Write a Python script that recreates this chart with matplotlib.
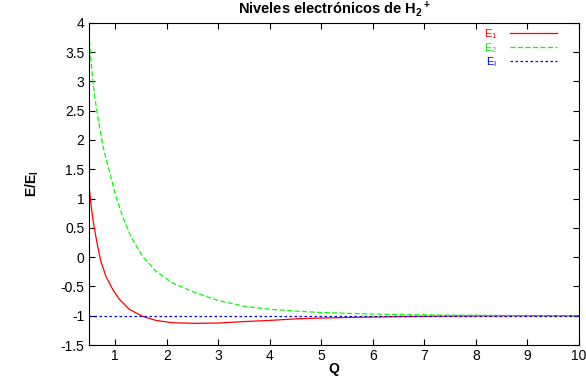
import numpy as np
import matplotlib
matplotlib.use('Agg')
import matplotlib.pyplot as plt

plt.rcParams['font.family'] = ['Liberation Sans', 'DejaVu Sans']
plt.rcParams['mathtext.default'] = 'regular'

# values
q_e1 = [0.5, 0.53, 0.55, 0.593, 0.63, 0.66, 0.72, 0.82, 0.95, 1.08, 1.27, 1.53, 1.79,
        2.11, 2.56, 3.0, 3.5, 4.0, 4.57, 5.0, 5.5, 6.5, 7.5, 8.5, 10.0]
e1 = [1.15, 0.9, 0.75, 0.5, 0.32, 0.18, -0.07, -0.33, -0.55, -0.72, -0.89, -1.01, -1.08,
      -1.12, -1.13, -1.125, -1.10, -1.08, -1.05, -1.04, -1.03, -1.015, -1.006, -1.002, -1.0]

q_e2 = [0.5, 0.52, 0.55, 0.6, 0.65, 0.7, 0.76, 0.83, 0.9, 1.01, 1.14, 1.30, 1.53,
        1.79, 2.11, 2.56, 3.0, 3.51, 4.0, 4.57, 5.0, 5.54, 6.0, 6.5, 7.5, 8.5, 10.0]
e2 = [3.68, 3.45, 3.15, 2.75, 2.45, 2.2, 1.9, 1.65, 1.42, 1.04, 0.70, 0.355, 0.01,
      -0.24, -0.44, -0.61, -0.74, -0.84, -0.89, -0.925, -0.945, -0.96, -0.972, -0.98,
      -0.99, -0.996, -1.0]

q_ei = [0.5, 10.0]
ei = [-1.0, -1.0]

xticks = list(range(1, 11))
yticks = [-1.5, -1, -0.5, 0, 0.5, 1, 1.5, 2, 2.5, 3, 3.5, 4]

fig = plt.figure(figsize=(5.86, 3.76), dpi=100)
ax = fig.add_axes([0.1527, 0.0824, 0.8353, 0.8572])

ax.plot(q_e1, e1, color='#ff0000', lw=0.9, label='E$_1$')
ax.plot(q_e2, e2, color='#00ff00', lw=0.9, ls=(0, (4, 2)), label='E$_2$')
ax.plot(q_ei, ei, color='#0000ff', lw=0.9, ls=(0, (2, 2)), label='E$_I$')

ax.set_xlim(0.5, 10)
ax.set_ylim(-1.5, 4)
ax.set_xticks(xticks)
ax.set_yticks(yticks)
ax.set_yticklabels(['%g' % v for v in yticks])
ax.tick_params(direction='in', top=True, right=True, labelsize=10, length=4, width=0.8)
ax.tick_params(axis='x', pad=3)

ax.set_title('Niveles electrónicos de H$_2$$^+$', fontsize=10.5, fontweight='bold', pad=6)
ax.set_xlabel('Q', fontsize=10, fontweight='bold', labelpad=-1)
ax.set_ylabel('E/E$_I$', fontsize=10, fontweight='bold', labelpad=14)

leg = ax.legend(loc='upper right', frameon=False, markerfirst=False, fontsize=8,
                handlelength=4.3, labelspacing=0.0, borderaxespad=0.2,
                handletextpad=1.1, borderpad=0.2)
leg.set_bbox_to_anchor((0.965, 1.0), transform=ax.transAxes)
for txt, c in zip(leg.get_texts(), ['#ff0000', '#00ff00', '#0000ff']):
    txt.set_color(c)
    txt.set_ha('right')

plt.savefig('out.png', dpi=100)
